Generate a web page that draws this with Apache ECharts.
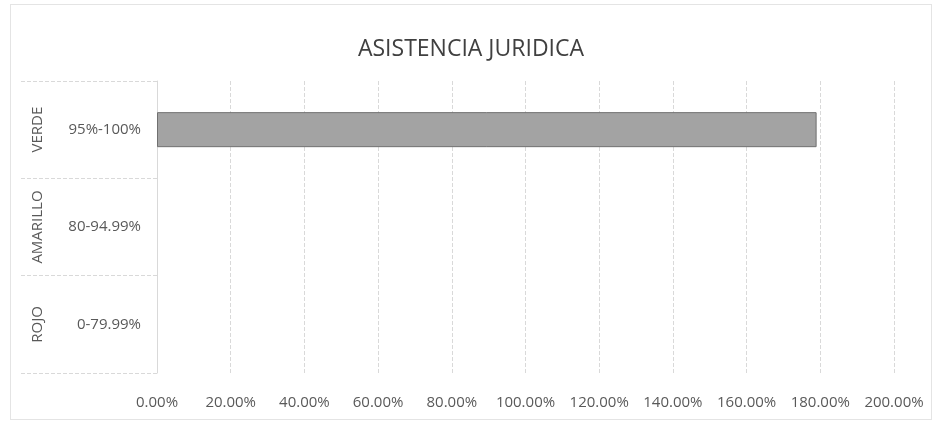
<!DOCTYPE html>
<html>
<head>
<meta charset="utf-8">
<script src="https://cdn.jsdelivr.net/npm/echarts@6/dist/echarts.min.js"></script>
<style>
  html, body { margin: 0; padding: 0; background: #fff; }
  #chart { position: absolute; left: 10px; top: 4px; width: 922px; height: 416px; border: 1px solid #e4e4e4; box-sizing: border-box; }
</style>
</head>
<body>
<div id="chart"></div>
<script>
// categorías: nivel exterior (semáforo) e interior (rango)
const groupLabels = ['VERDE', 'AMARILLO', 'ROJO'];
const rangeLabels = ['95%-100%', '80-94.99%', '0-79.99%'];
// valor de cumplimiento (1 = 100%)
const values = [1.79, null, null];
// eje X
const xMin = 0;
const xMax = 2;
const xStep = 0.2;

const textColor = '#595959';
const lineColor = '#d9d9d9';

const chart = echarts.init(document.getElementById('chart'));

const option = {
  animation: false,
  title: {
    text: 'ASISTENCIA JURIDICA',
    left: 'center',
    top: 28,
    textStyle: {
      fontFamily: 'Open Sans',
      fontSize: 23,
      fontWeight: 'normal',
      color: '#404040'
    }
  },
  grid: {
    left: 146,
    right: 37,
    top: 76,
    bottom: 46
  },
  xAxis: {
    type: 'value',
    min: xMin,
    max: xMax,
    interval: xStep,
    axisLine: { show: false },
    axisTick: { show: false },
    axisLabel: {
      margin: 22,
      color: textColor,
      fontFamily: 'Open Sans',
      fontSize: 15,
      formatter: (v) => (v * 100).toFixed(2) + '%'
    },
    splitLine: {
      lineStyle: { color: lineColor, type: 'dashed' }
    }
  },
  yAxis: [
    {
      type: 'category',
      data: rangeLabels,
      inverse: true,
      axisLine: { show: true, lineStyle: { color: lineColor } },
      axisTick: {
        show: true,
        length: 136,
        lineStyle: { color: lineColor, type: 'dashed' }
      },
      axisLabel: {
        margin: 16,
        color: textColor,
        fontFamily: 'Open Sans',
        fontSize: 15
      }
    },
    {
      type: 'category',
      data: groupLabels,
      inverse: true,
      position: 'left',
      offset: 108,
      axisLine: { show: false },
      axisTick: { show: false },
      axisLabel: {
        rotate: 90,
        margin: 4,
        color: textColor,
        fontFamily: 'Open Sans',
        fontSize: 15
      }
    }
  ],
  series: [
    {
      type: 'bar',
      yAxisIndex: 0,
      data: values,
      barWidth: '36%',
      itemStyle: {
        color: '#a3a3a3',
        borderColor: '#707070',
        borderWidth: 1
      }
    }
  ]
};

chart.setOption(option);
</script>
</body>
</html>
